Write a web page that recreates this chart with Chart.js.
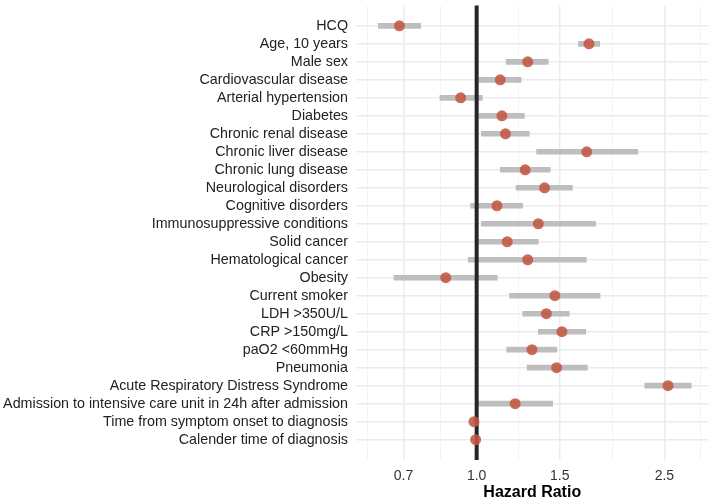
<!DOCTYPE html>
<html>
<head>
<meta charset="utf-8">
<script src="https://cdn.jsdelivr.net/npm/chart.js@4.4.0/dist/chart.umd.min.js"></script>
<style>
  html, body { margin: 0; padding: 0; background: #fff; }
  #wrap { width: 714px; height: 502px; }
</style>
</head>
<body>
<div id="wrap"><canvas id="forest"></canvas></div>
<script>
// forest plot: hazard ratios with 95% CI
const labels = [
  'HCQ', 'Age, 10 years', 'Male sex', 'Cardiovascular disease', 'Arterial hypertension',
  'Diabetes', 'Chronic renal disease', 'Chronic liver disease', 'Chronic lung disease',
  'Neurological disorders', 'Cognitive disorders', 'Immunosuppressive conditions',
  'Solid cancer', 'Hematological cancer', 'Obesity', 'Current smoker', 'LDH >350U/L',
  'CRP >150mg/L', 'paO2 <60mmHg', 'Pneumonia', 'Acute Respiratory Distress Syndrome',
  'Admission to intensive care unit in 24h after admission',
  'Time from symptom onset to diagnosis', 'Calender time of diagnosis'
];
const hazardRatio = [0.686, 1.73, 1.283, 1.122, 0.925, 1.131, 1.151, 1.711, 1.267, 1.393, 1.104, 1.351,
  1.161, 1.283, 0.86, 1.465, 1.405, 1.516, 1.31, 1.477, 2.544, 1.207, 0.987, 0.995];
const ciLower = [0.619, 1.643, 1.155, 1.011, 0.836, 1.011, 1.023, 1.34, 1.122, 1.212, 0.971, 1.023,
  1.002, 0.959, 0.668, 1.174, 1.252, 1.351, 1.158, 1.279, 2.271, 1.0, 0.982, 0.99];
const ciUpper = [0.761, 1.823, 1.418, 1.242, 1.028, 1.262, 1.293, 2.196, 1.432, 1.596, 1.252, 1.788,
  1.351, 1.708, 1.106, 1.826, 1.571, 1.703, 1.479, 1.717, 2.849, 1.449, 0.992, 1.0];
const xMajorTicks = [0.7, 1.0, 1.5, 2.5];
const xTickLabels = ['0.7', '1.0', '1.5', '2.5'];
const xMinorTicks = [0.588, 0.837, 1.225, 1.936, 2.98];
const refValue = 1.0;

const refLine = {
  id: 'refLine',
  afterDatasetDraw(chart, args) {
    if (args.index !== 0) return;
    const { ctx, chartArea } = chart;
    const x = chart.scales.x.getPixelForValue(refValue);
    ctx.save();
    ctx.strokeStyle = '#262626';
    ctx.lineWidth = 4;
    ctx.beginPath();
    ctx.moveTo(x, chartArea.top);
    ctx.lineTo(x, chartArea.bottom);
    ctx.stroke();
    ctx.restore();
  }
};

new Chart(document.getElementById('forest'), {
  type: 'bar',
  data: {
    datasets: [
      {
        type: 'bar',
        indexAxis: 'y',
        data: labels.map((l, i) => ({ x: [ciLower[i], ciUpper[i]], y: i })),
        backgroundColor: '#bebebe',
        barThickness: 5,
        borderSkipped: false,
        order: 2
      },
      {
        type: 'scatter',
        data: labels.map((l, i) => ({ x: hazardRatio[i], y: i })),
        backgroundColor: 'rgba(196, 88, 68, 0.88)',
        borderWidth: 0,
        pointRadius: 5.5,
        order: 1
      }
    ]
  },
  options: {
    responsive: true,
    maintainAspectRatio: false,
    animation: false,
    indexAxis: 'y',
    layout: { padding: { top: 3, right: 2, left: 0, bottom: 0 } },
    plugins: { legend: { display: false }, tooltip: { enabled: false } },
    scales: {
      x: {
        type: 'logarithmic',
        min: 0.555,
        max: 3.1,
        offset: false,
        afterBuildTicks: (scale) => {
          scale.ticks = [...xMajorTicks, ...xMinorTicks].sort((a, b) => a - b).map(v => ({ value: v }));
        },
        afterFit: (scale) => {
          scale.height = 42;
          scale.paddingLeft = 0;
          scale.paddingRight = 0;
        },
        border: { display: false },
        grid: {
          drawTicks: false,
          offset: false,
          color: (c) => xMajorTicks.includes(c.tick.value) ? '#ebebeb' : '#f3f3f3',
          lineWidth: (c) => xMajorTicks.includes(c.tick.value) ? 1.5 : 1
        },
        ticks: {
          autoSkip: false,
          maxRotation: 0,
          padding: 8,
          color: '#333',
          font: { family: 'Liberation Sans, Arial, sans-serif', size: 14 },
          callback: (v) => {
            const k = xMajorTicks.indexOf(v);
            return k >= 0 ? xTickLabels[k] : '';
          }
        },
        title: {
          display: true,
          text: 'Hazard Ratio',
          color: '#000',
          padding: { top: 0, bottom: 0 },
          font: { family: 'Liberation Sans, Arial, sans-serif', size: 16, weight: 'bold' }
        }
      },
      y: {
        type: 'linear',
        reverse: true,
        offset: false,
        min: -1.13,
        max: labels.length - 1 + 1.13,
        afterBuildTicks: (scale) => {
          scale.ticks = labels.map((l, i) => ({ value: i }));
        },
        afterFit: (scale) => {
          scale.width = 356;
          scale.paddingTop = 0;
          scale.paddingBottom = 0;
        },
        border: { display: false },
        grid: { drawTicks: false, offset: false, color: '#ebebeb', lineWidth: 1.5 },
        ticks: {
          autoSkip: false,
          padding: 8,
          color: '#222',
          font: { family: 'Liberation Sans, Arial, sans-serif', size: 14.3 },
          callback: (v) => labels[v] ?? ''
        }
      }
    }
  },
  plugins: [refLine]
});
</script>
</body>
</html>
